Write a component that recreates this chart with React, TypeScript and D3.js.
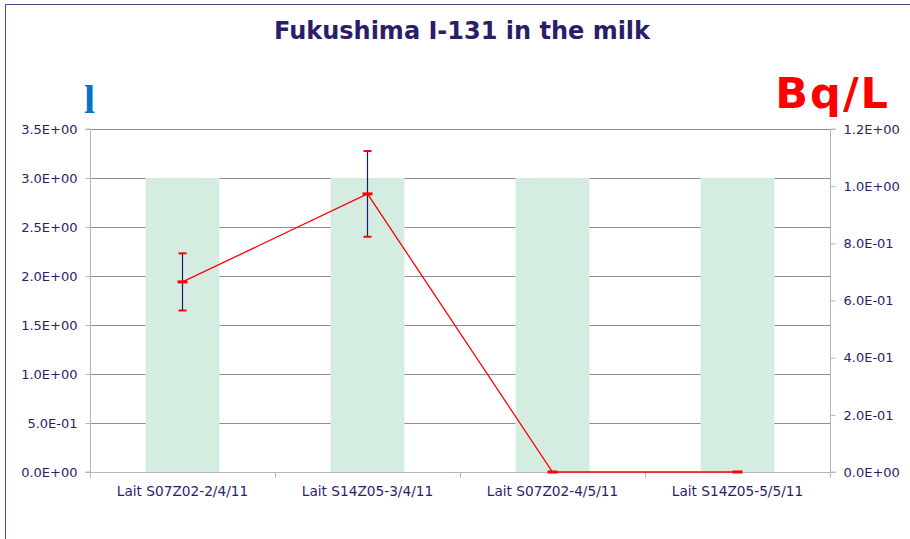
import { FC, useEffect, useRef } from 'react';
import * as d3 from 'd3';

const categories = [
  'Lait S07Z02-2/4/11',
  'Lait S14Z05-3/4/11',
  'Lait S07Z02-4/5/11',
  'Lait S14Z05-5/5/11',
];
// bars, left axis "l"
const barValues = [3.0, 3.0, 3.0, 3.0];
// line, right axis Bq/L
const bqValues = [0.665, 0.973, 0, 0];
const bqErrors = [0.1, 0.15, 0, 0];

const leftTicks = [0, 0.5, 1, 1.5, 2, 2.5, 3, 3.5];
const rightTicks = [0, 0.2, 0.4, 0.6, 0.8, 1.0, 1.2];

const sci = (v: number) => {
  const [m, e] = v.toExponential(1).split('e');
  const sign = e[0] === '-' ? '-' : '+';
  const digits = e.replace(/[+-]/, '').padStart(2, '0');
  return `${m}E${sign}${digits}`;
};

const TEXT = '#2b1d6b';
const GRID = '#8e8aa6';
const AXIS = '#b4b2c8';

const App: FC = () => {
  const svgRef = useRef<SVGSVGElement>(null);

  useEffect(() => {
    if (!svgRef.current) return;
    const width = 910;
    const height = 539;
    const plot = { left: 90, right: 830, top: 129, bottom: 472 };

    const svg = d3.select(svgRef.current);
    svg.selectAll('*').remove();

    // outer chart border
    svg.append('path')
      .attr('d', `M5.5,${height} V4.5 H${width}`)
      .attr('fill', 'none')
      .attr('stroke', '#50458c')
      .attr('stroke-width', 1);

    const x = d3.scaleBand<string>()
      .domain(categories)
      .range([plot.left, plot.right]);

    const yL = d3.scaleLinear().domain([0, 3.5]).range([plot.bottom, plot.top]);
    const yR = d3.scaleLinear().domain([0, 1.2]).range([plot.bottom, plot.top]);

    // gridlines
    svg.append('g')
      .selectAll('line')
      .data(leftTicks.filter(t => t > 0))
      .enter()
      .append('line')
      .attr('x1', plot.left)
      .attr('x2', plot.right)
      .attr('y1', d => Math.round(yL(d)) + 0.5)
      .attr('y2', d => Math.round(yL(d)) + 0.5)
      .attr('stroke', GRID)
      .attr('stroke-width', 1);

    // bars
    const barW = x.bandwidth() * 0.4;
    svg.append('g')
      .selectAll('rect')
      .data(barValues)
      .enter()
      .append('rect')
      .attr('x', (_, i) => (x(categories[i]) as number) + (x.bandwidth() - barW) / 2)
      .attr('y', d => yL(d))
      .attr('width', barW)
      .attr('height', d => plot.bottom - yL(d))
      .attr('fill', '#d5ede1');

    const font = 'Verdana, "DejaVu Sans", sans-serif';

    // left axis
    const left = svg.append('g').attr('transform', `translate(${plot.left + 0.5},0)`);
    left.call(
      d3.axisLeft(yL).tickValues(leftTicks).tickFormat(d => sci(d as number)).tickSize(5).tickPadding(8)
    );
    left.select('.domain').attr('stroke', AXIS).attr('d', `M-5,${plot.top}H0V${plot.bottom}H-5`);
    left.selectAll('.tick line').attr('stroke', AXIS);
    left.selectAll('.tick text').attr('fill', TEXT).attr('font-size', 13).attr('font-family', font);

    // right axis
    const right = svg.append('g').attr('transform', `translate(${plot.right + 0.5},0)`);
    right.call(
      d3.axisRight(yR).tickValues(rightTicks).tickFormat(d => sci(d as number)).tickSize(5).tickPadding(8)
    );
    right.select('.domain').attr('stroke', AXIS).attr('d', `M5,${plot.top}H0V${plot.bottom}H5`);
    right.selectAll('.tick line').attr('stroke', AXIS);
    right.selectAll('.tick text').attr('fill', TEXT).attr('font-size', 13).attr('font-family', font);

    // bottom axis
    const bottom = svg.append('g').attr('transform', `translate(0,${plot.bottom + 0.5})`);
    bottom.append('line')
      .attr('x1', plot.left).attr('x2', plot.right)
      .attr('stroke', AXIS);
    bottom.selectAll('.sep')
      .data(d3.range(categories.length + 1))
      .enter()
      .append('line')
      .attr('x1', i => plot.left + i * x.step() + 0.5)
      .attr('x2', i => plot.left + i * x.step() + 0.5)
      .attr('y1', 0)
      .attr('y2', 5)
      .attr('stroke', AXIS);
    bottom.selectAll('.lbl')
      .data(categories)
      .enter()
      .append('text')
      .attr('x', d => (x(d) as number) + x.bandwidth() / 2)
      .attr('y', 23)
      .attr('text-anchor', 'middle')
      .attr('fill', TEXT)
      .attr('font-size', 13.7)
      .attr('font-family', font)
      .text(d => d);

    const cx = (i: number) => (x(categories[i]) as number) + x.bandwidth() / 2;

    // error bars
    const eb = svg.append('g');
    bqValues.forEach((v, i) => {
      const err = bqErrors[i];
      if (!err) return;
      const top = yR(v + err);
      const bot = yR(v - err);
      eb.append('line')
        .attr('x1', cx(i)).attr('x2', cx(i))
        .attr('y1', top).attr('y2', bot)
        .attr('stroke', '#1c1670').attr('stroke-width', 1.2);
      [top, bot].forEach(yy => {
        eb.append('line')
          .attr('x1', cx(i) - 4).attr('x2', cx(i) + 4)
          .attr('y1', yy).attr('y2', yy)
          .attr('stroke', '#ff0000').attr('stroke-width', 2);
      });
    });

    // red line
    const line = d3.line<number>()
      .x((_, i) => cx(i))
      .y(d => yR(d));
    svg.append('path')
      .datum(bqValues)
      .attr('fill', 'none')
      .attr('stroke', '#ff0000')
      .attr('stroke-width', 1.3)
      .attr('d', line);

    // dash markers
    svg.append('g')
      .selectAll('rect')
      .data(bqValues)
      .enter()
      .append('rect')
      .attr('x', (_, i) => cx(i) - 5)
      .attr('y', d => yR(d) - 1.5)
      .attr('width', 10)
      .attr('height', 3)
      .attr('fill', '#ff0000');

    // title
    svg.append('text')
      .attr('x', 462)
      .attr('y', 39)
      .attr('text-anchor', 'middle')
      .attr('fill', TEXT)
      .attr('font-size', 24)
      .attr('font-weight', 'bold')
      .attr('font-family', font)
      .text('Fukushima I-131 in the milk');

    // axis unit labels
    svg.append('text')
      .attr('x', 84)
      .attr('y', 113)
      .attr('fill', '#0a72c0')
      .attr('font-size', 40)
      .attr('font-weight', 'bold')
      .attr('font-family', '"Liberation Serif", serif')
      .text('l');

    svg.append('text')
      .attr('x', 890)
      .attr('y', 108)
      .attr('text-anchor', 'end')
      .attr('fill', '#ff0000')
      .attr('font-size', 43)
      .attr('font-weight', 'bold')
      .attr('letter-spacing', 2)
      .attr('font-family', font)
      .text('Bq/L');
  }, []);

  return (
    <svg
      ref={svgRef}
      width={910}
      height={539}
      style={{ position: 'absolute', left: 0, top: 0, background: '#fff' }}
    />
  );
};

export default App;
